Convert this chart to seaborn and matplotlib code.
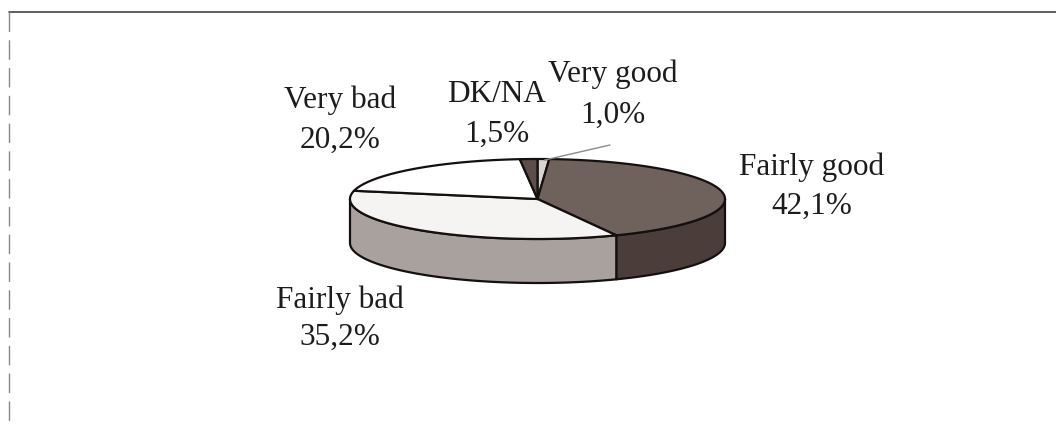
import numpy as np
import matplotlib
matplotlib.use("Agg")
import matplotlib.pyplot as plt
from matplotlib.patches import Polygon
import seaborn as sns

# Survey answers, listed clockwise from 12 o'clock
categories = ["Very good", "Fairly good", "Fairly bad", "Very bad", "DK/NA"]
shares = [1.0, 42.1, 35.2, 20.2, 1.5]
value_labels = ["1,0%", "42,1%", "35,2%", "20,2%", "1,5%"]

top_colors = ["#d9d5d2", "#6f615c", "#f6f4f3", "#ffffff", "#5e4e49"]
side_colors = ["#b8b2ae", "#4b3d39", "#a9a19d", "#ffffff", "#3f322e"]

sns.set_theme(style="white")
plt.rcParams["font.family"] = ["Liberation Serif", "DejaVu Serif"]

fig = plt.figure(figsize=(10.56, 4.26), dpi=100)
ax = fig.add_axes([0, 0, 1, 1])
ax.set_xlim(0, 1056)
ax.set_ylim(426, 0)
ax.axis("off")

# Pie geometry (pixel-like axis units)
cx, cy = 537.5, 199.0
rx, ry = 187.5, 40.0
depth = 44.0


def arc(t0, t1, n=200):
    t = np.linspace(t0, t1, n)
    return cx + rx * np.cos(t), cy - ry * np.sin(t)


fractions = np.array(shares) / sum(shares)
edges = np.pi / 2 - 2 * np.pi * np.concatenate([[0], np.cumsum(fractions)])

# Side walls: only the front half (sin < 0) is visible
for i in range(len(shares)):
    a0, a1 = edges[i], edges[i + 1]  # a0 > a1, clockwise
    for shift in (0, -2 * np.pi, 2 * np.pi):
        lo = max(a1, -np.pi + shift)
        hi = min(a0, 0 + shift)
        if hi > lo:
            xs, ys = arc(hi, lo)
            pts = np.column_stack([np.concatenate([xs, xs[::-1]]),
                                   np.concatenate([ys, ys[::-1] + depth])])
            ax.add_patch(Polygon(pts, closed=True, facecolor=side_colors[i],
                                 edgecolor="#151010", linewidth=1.6,
                                 joinstyle="round", zorder=2))

# Top faces
for i in range(len(shares)):
    xs, ys = arc(edges[i], edges[i + 1])
    pts = np.column_stack([np.concatenate([[cx], xs]), np.concatenate([[cy], ys])])
    ax.add_patch(Polygon(pts, closed=True, facecolor=top_colors[i],
                         edgecolor="#151010", linewidth=1.6,
                         joinstyle="round", zorder=3))

# Labels: (x centre, baseline of name, baseline of value)
label_pos = {
    "Very good": (613, 82, 123),
    "Fairly good": (812, 175, 214),
    "Fairly bad": (340, 308, 345),
    "Very bad": (340, 108, 148),
    "DK/NA": (497, 102, 142),
}
for cat, val in zip(categories, value_labels):
    x, y1, y2 = label_pos[cat]
    ax.text(x, y1, cat, ha="center", va="baseline",
            fontsize=22.5, color="#1c1c1c", zorder=5)
    ax.text(x, y2, val, ha="center", va="baseline",
            fontsize=22.5, color="#1c1c1c", zorder=5)

# Leader line for the smallest slice
mid = (edges[0] + edges[1]) / 2
lx, ly = cx + rx * 0.2 * np.cos(mid) + 6, cy - ry * np.sin(mid) + 1
ax.plot([lx, 610], [ly, 145], color="#8a8a8a", linewidth=1.0, zorder=4)

# Frame around the chart
ax.plot([9, 1056], [12, 12], color="#444444", linewidth=1.2, zorder=1)
ax.plot([9, 9], [12, 426], color="#888888", linewidth=1.0,
        linestyle=(0, (14, 6)), zorder=1)

fig.savefig("out.png", dpi=100, facecolor="white")
